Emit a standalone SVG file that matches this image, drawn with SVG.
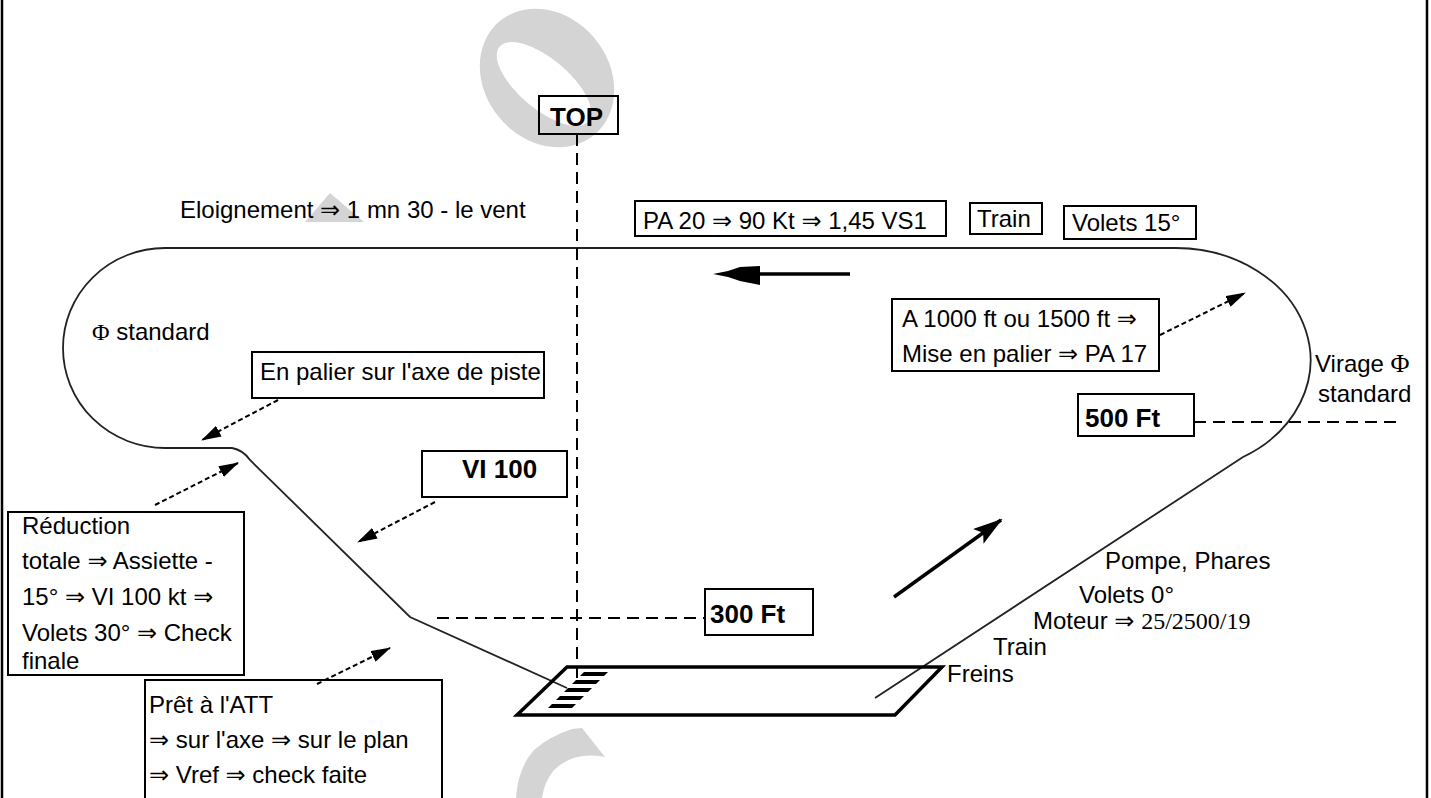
<svg xmlns="http://www.w3.org/2000/svg" width="1431" height="798" viewBox="0 0 1431 798">
<style>
text{font-family:"Liberation Sans","DejaVu Sans",Arial,sans-serif;font-size:24px;fill:#000}
.b{font-weight:bold;font-size:26px}
.sym{font-family:"Liberation Serif","DejaVu Serif",serif}
.box{fill:none;stroke:#000;stroke-width:2}
.dash{fill:none;stroke:#000;stroke-width:2;stroke-dasharray:12 7}
.route{fill:none;stroke:#222;stroke-width:1.8}
.darr{fill:none;stroke:#000;stroke-width:2;stroke-dasharray:5 3}
.wm{fill:#d4d4d4}
.frame{stroke:#000;stroke-width:2.5}
</style>
<defs>
<marker id="ah" viewBox="0 0 20 12" refX="19" refY="6" markerWidth="20" markerHeight="12" markerUnits="userSpaceOnUse" orient="auto"><path d="M0,0 L20,6 L0,12 Z" fill="#000"/></marker>
<marker id="ahb" viewBox="0 0 30 18" refX="28" refY="9" markerWidth="30" markerHeight="18" markerUnits="userSpaceOnUse" orient="auto"><path d="M0,0 L30,9 L0,18 L6,9 Z" fill="#000"/></marker>
</defs>
<rect width="1431" height="798" fill="#fff"/>
<g id="watermark">
<ellipse class="wm" cx="547" cy="78" rx="74" ry="62" transform="rotate(50 547 78)"/>
<ellipse cx="544" cy="84" rx="58" ry="25" fill="#fff" transform="rotate(40 544 84)"/>
<polygon class="wm" points="330,193 364,222 305,222"/>
<path class="wm" d="M572,729 L582,728 L605,757 Q574,751 554,770 Q544,782 542,798 L516,798 Q518,768 534,750 Q550,736 572,729 Z"/>
</g>
<g id="frame">
<line class="frame" x1="2" y1="0" x2="2" y2="798"/>
<line class="frame" x1="1427" y1="0" x2="1427" y2="798"/>
</g>
<g id="connectors">
<path id="circuit" class="route" d="M567,688 L410,617 L250,460 Q243,450 232,448 L165,448 A102,100 0 0 1 165,248 L1175,248 A135,112 0 0 1 1243,457 L875,698"/>
<line class="dash" x1="577" y1="134" x2="577" y2="678"/>
<line class="dash" x1="437" y1="618" x2="705" y2="618"/>
<line class="dash" x1="1194" y1="422" x2="1400" y2="422"/>
<line class="darr" x1="278" y1="400" x2="202" y2="440" marker-end="url(#ah)"/>
<line class="darr" x1="155" y1="505" x2="238" y2="463" marker-end="url(#ah)"/>
<line class="darr" x1="435" y1="502" x2="358" y2="542" marker-end="url(#ah)"/>
<line class="darr" x1="317" y1="684" x2="390" y2="648" marker-end="url(#ah)"/>
<line class="darr" x1="1160" y1="335" x2="1245" y2="293" marker-end="url(#ah)"/>
<line x1="894" y1="597" x2="1001" y2="520" stroke="#000" stroke-width="3.5" marker-end="url(#ahb)"/>
<line x1="740" y1="274" x2="850" y2="274" stroke="#000" stroke-width="3.5"/>
<path d="M713,274 L728,271 L740,267 L760,266 L760,285 L740,281 L728,277 Z" fill="#000"/>
</g>
<g id="runway">
<polygon points="567,667 942,667 895,715 517,715" fill="none" stroke="#000" stroke-width="3.5" stroke-linejoin="miter"/>
<polygon points="584,672 608,672 604,676 580,676"/>
<polygon points="576,680 600,680 596,684 572,684"/>
<polygon points="568,688 592,688 588,692 564,692"/>
<polygon points="560,696 584,696 580,700 556,700"/>
<polygon points="552,704 576,704 572,708 548,708"/>
</g>
<g id="top">
<rect class="box" x="539" y="96" width="79" height="38"/>
<text class="b" x="550" y="126">TOP</text>
</g>
<g id="eloignement">
<text x="180" y="218">Eloignement ⇒ 1 mn 30 - le vent</text>
</g>
<g id="pa20">
<rect class="box" x="635" y="201" width="311" height="35"/>
<text x="643" y="229">PA 20 ⇒ 90 Kt ⇒ 1,45 VS1</text>
</g>
<g id="train-top">
<rect class="box" x="970" y="203" width="72" height="31"/>
<text x="977" y="227">Train</text>
</g>
<g id="volets15">
<rect class="box" x="1064" y="206" width="132" height="33"/>
<text x="1072" y="231">Volets 15°</text>
</g>
<g id="phi-standard">
<text x="92" y="340"><tspan class="sym">Φ</tspan> standard</text>
</g>
<g id="en-palier">
<rect class="box" x="252" y="352" width="292" height="46"/>
<text x="260" y="380">En palier sur l'axe de piste</text>
</g>
<g id="a1000">
<rect class="box" x="892" y="299" width="267" height="72"/>
<text x="902" y="327">A 1000 ft ou 1500 ft ⇒</text>
<text x="902" y="362">Mise en palier ⇒ PA 17</text>
</g>
<g id="virage">
<text x="1315" y="372">Virage <tspan class="sym" font-size="26">Φ</tspan></text>
<text x="1318" y="402">standard</text>
</g>
<g id="ft500">
<rect class="box" x="1078" y="394" width="116" height="42"/>
<text class="b" x="1085" y="427">500 Ft</text>
</g>
<g id="vi100">
<rect class="box" x="422" y="451" width="145" height="46"/>
<text class="b" x="462" y="478" font-size="24">VI 100</text>
</g>
<g id="reduction">
<rect class="box" x="8" y="512" width="236" height="163"/>
<text x="22" y="534">Réduction</text>
<text x="22" y="569">totale ⇒ Assiette -</text>
<text x="22" y="605">15° ⇒ VI 100 kt ⇒</text>
<text x="22" y="641">Volets 30° ⇒ Check</text>
<text x="22" y="669">finale</text>
</g>
<g id="ft300">
<rect class="box" x="705" y="589" width="108" height="46"/>
<text class="b" x="710" y="623">300 Ft</text>
</g>
<g id="pret">
<rect class="box" x="145" y="680" width="297" height="130"/>
<text x="149" y="713">Prêt à l'ATT</text>
<text x="149" y="748">⇒ sur l'axe ⇒ sur le plan</text>
<text x="149" y="783">⇒ Vref ⇒ check faite</text>
</g>
<g id="departure-labels">
<text x="1105" y="569">Pompe, Phares</text>
<text x="1079" y="603">Volets 0°</text>
<text x="1033" y="629">Moteur ⇒ <tspan class="sym">25/2500/19</tspan></text>
<text x="993" y="655">Train</text>
<text x="947" y="682">Freins</text>
</g>
</svg>
